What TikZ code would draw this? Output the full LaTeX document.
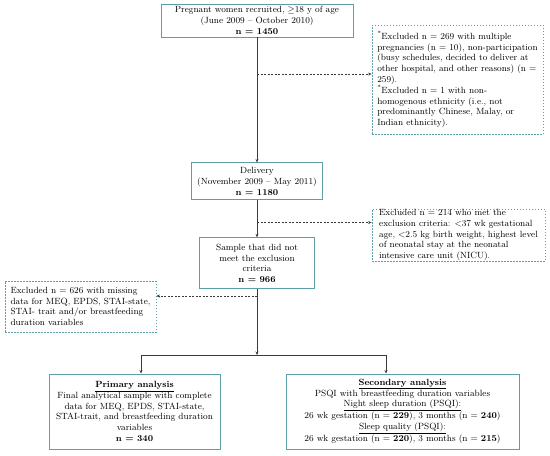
\documentclass[tikz,border=0pt]{standalone}
\usetikzlibrary{arrows.meta, positioning, calc}
\definecolor{boxTeal}{HTML}{5E9EA8}
\definecolor{lineGray}{HTML}{3A3A3A}
\newcommand{\flowfont}{\fontsize{9}{10.8}\selectfont}
\tikzset{
  boxMain/.style={rectangle, draw=boxTeal, line width=0.9pt, fill=white,
                  align=center, inner xsep=2pt, inner ysep=0pt, font=\flowfont},
  boxExcl/.style={rectangle, draw=boxTeal, line width=0.8pt, fill=white,
                  dash pattern=on 1.5pt off 1.5pt, align=left,
                  inner xsep=3pt, inner ysep=0pt, font=\flowfont},
  arrowS/.style={-{Stealth[length=3.5pt, width=3pt]}, lineGray, line width=0.6pt},
  arrowX/.style={arrowS, dash pattern=on 2pt off 1.5pt},
  lineS/.style={lineGray, line width=0.6pt},
}
\begin{document}
\begin{tikzpicture}[x=1pt, y=-1pt]
    \useasboundingbox (0,0) rectangle (550,456);
    % main column
    \node[boxMain, minimum width=192pt, minimum height=33pt] (recruit) at (257,20.5)
      {Pregnant women recruited, $\geq$18 y of age\\(June 2009 -- October 2010)\\\textbf{n = 1450}};
    \node[boxMain, minimum width=131pt, minimum height=37pt, below=125pt of recruit] (delivery)
      {Delivery\\(November 2009 -- May 2011)\\\textbf{n = 1180}};
    \node[boxMain, minimum width=115pt, minimum height=51pt, below=37pt of delivery] (sample)
      {Sample that did not\\meet the exclusion\\criteria\\\textbf{n = 966}};
    % exclusions
    \node[boxExcl, minimum width=171pt, minimum height=109pt] (excl1) at (457.5,79.5)
      {\textsuperscript{*}Excluded n = 269 with multiple\\pregnancies (n = 10), non-participation\\(busy schedules, decided to deliver at\\other hospital, and other reasons) (n =\\259).\\\textsuperscript{*}Excluded n = 1 with non-\\homogenous ethnicity (i.e., not\\predominantly Chinese, Malay, or\\Indian ethnicity).};
    \node[boxExcl, minimum width=173pt, minimum height=52pt] (excl2) at (458.5,235)
      {Excluded n = 214 who met the\\exclusion criteria: <37 wk gestational\\age, <2.5 kg birth weight, highest level\\of neonatal stay at the neonatal\\intensive care unit (NICU).};
    \node[boxExcl, minimum width=151pt, minimum height=51pt] (excl3) at (80.5,306.5)
      {Excluded n = 626 with missing\\data for MEQ, EPDS, STAI-state,\\STAI- trait and/or breastfeeding\\duration variables};
    % analyses
    \node[boxMain, minimum width=171pt, minimum height=75pt] (prim) at (134.5,411.5)
      {\textbf{\underline{Primary analysis}}\\Final analytical sample with complete\\data for MEQ, EPDS, STAI-state,\\STAI-trait, and breastfeeding duration\\variables\\\textbf{n = 340}};
    \node[boxMain, minimum width=233pt, minimum height=75pt] (sec) at (402.5,411.5)
      {\textbf{\underline{Secondary analysis}}\\PSQI with breastfeeding duration variables\\\underline{Night sleep duration (PSQI):}\\26 wk gestation (n = \textbf{229}), 3 months (n = \textbf{240})\\\underline{Sleep quality (PSQI):}\\26 wk gestation (n = \textbf{220}), 3 months (n = \textbf{215})};
    % connectors
    \coordinate (j1) at ($(recruit.south |- 0,74)$);
    \coordinate (j2) at ($(delivery.south |- 0,222.5)$);
    \coordinate (j3) at ($(sample.south |- 0,296)$);
    \coordinate (split) at ($(sample.south |- 0,355)$);
    \coordinate (splitL) at (141,355);
    \coordinate (splitR) at (386,355);
    \draw[arrowS] (recruit) -- (delivery);
    \draw[arrowS] (delivery) -- (sample);
    \draw[arrowS] (sample) -- (split);
    \draw[arrowX] (j1) -- (j1 -| excl1.west);
    \draw[arrowX] (j2) -- (j2 -| excl2.west);
    \draw[arrowX] (j3) -- (j3 -| excl3.east);
    \draw[lineS] (splitL) -- (splitR);
    \draw[arrowS] (splitL) -- (splitL |- prim.north);
    \draw[arrowS] (splitR) -- (splitR |- sec.north);
  \end{tikzpicture}
\end{document}
